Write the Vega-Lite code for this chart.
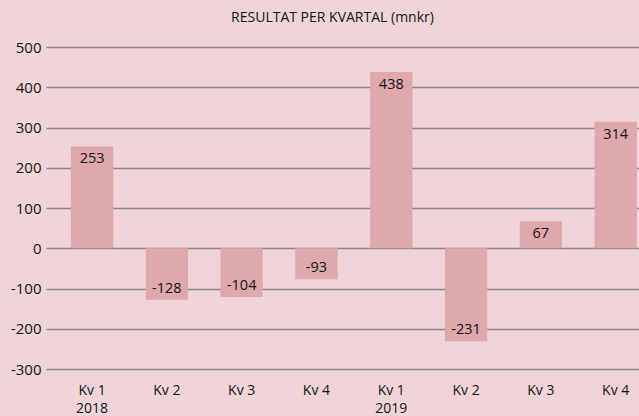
{
  "$schema": "https://vega.github.io/schema/vega-lite/v6.json",
  "width": 593,
  "height": 322,
  "autosize": {"type": "none"},
  "padding": {"left": 46, "top": 47, "right": 0, "bottom": 47},
  "background": "#f0d4d7",
  "config": {
    "view": {"stroke": null},
    "font": "Open Sans"
  },
  "title": {
    "text": "RESULTAT PER KVARTAL (mnkr)",
    "fontSize": 14,
    "fontWeight": "normal",
    "color": "#141414",
    "anchor": "middle",
    "dx": -10,
    "offset": 15
  },
  "data": {
    "values": [
      {"period": "2018-Q1", "bar": 253, "value": 253},
      {"period": "2018-Q2", "bar": -128, "value": -128},
      {"period": "2018-Q3", "bar": -121, "value": -104},
      {"period": "2018-Q4", "bar": -77, "value": -93},
      {"period": "2019-Q1", "bar": 438, "value": 438},
      {"period": "2019-Q2", "bar": -231, "value": -231},
      {"period": "2019-Q3", "bar": 67, "value": 67},
      {"period": "2019-Q4", "bar": 314, "value": 314}
    ]
  },
  "encoding": {
    "x": {
      "field": "period",
      "type": "nominal",
      "sort": null,
      "scale": {"paddingInner": 0.4345, "paddingOuter": 0.181, "align": 0.92},
      "axis": {
        "title": null,
        "domain": false,
        "ticks": false,
        "labelAngle": 0,
        "labelPadding": 14,
        "labelFontSize": 14,
        "labelColor": "#141414",
        "labelLineHeight": 18,
        "labelExpr": "{'2018-Q1':['Kv 1','2018'],'2018-Q2':'Kv 2','2018-Q3':'Kv 3','2018-Q4':'Kv 4','2019-Q1':['Kv 1','2019'],'2019-Q2':'Kv 2','2019-Q3':'Kv 3','2019-Q4':'Kv 4'}[datum.value]"
      }
    },
    "y": {
      "field": "bar",
      "type": "quantitative",
      "scale": {"domain": [-300, 500], "nice": false, "zero": true},
      "axis": {
        "title": null,
        "domain": false,
        "ticks": false,
        "values": [-300, -200, -100, 0, 100, 200, 300, 400, 500],
        "labelExpr": "'' + datum.value",
        "labelPadding": 5,
        "labelFontSize": 15,
        "labelColor": "#141414",
        "gridColor": "#8a8586",
        "gridWidth": 1.5,
        "gridOpacity": 1
      }
    }
  },
  "layer": [
    {
      "mark": {"type": "bar", "color": "#dfa8ad"}
    },
    {
      "transform": [{"filter": "datum.bar > 0"}],
      "mark": {"type": "text", "baseline": "middle", "dy": 13, "fontSize": 14.5, "color": "#141414"},
      "encoding": {"text": {"field": "value", "type": "nominal"}}
    },
    {
      "transform": [{"filter": "datum.bar < 0"}],
      "mark": {"type": "text", "baseline": "middle", "dy": -11, "fontSize": 14.5, "color": "#141414"},
      "encoding": {"text": {"field": "value", "type": "nominal"}}
    }
  ]
}
